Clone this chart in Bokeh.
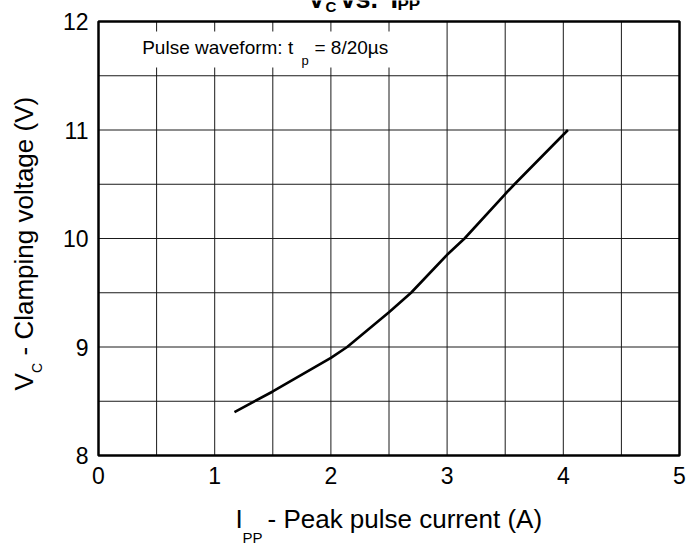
import math
from bokeh.plotting import figure
from bokeh.models import FixedTicker, Label, BoxAnnotation, Range1d, LinearAxis
from bokeh.embed import file_html
from bokeh.resources import INLINE

# ---- data ----
current_a = [1.17, 1.5, 2.0, 2.14, 2.5, 2.69, 3.0, 3.15, 3.5, 3.58, 4.04]
clamp_v = [8.40, 8.59, 8.90, 9.00, 9.32, 9.50, 9.85, 10.00, 10.41, 10.50, 11.00]
x_ticks = [0, 1, 2, 3, 4, 5]
y_ticks = [8, 9, 10, 11, 12]
x_grid = [0.5, 1, 1.5, 2, 2.5, 3, 3.5, 4, 4.5]
y_grid = [8.5, 9, 9.5, 10, 10.5, 11, 11.5]

FONT = "Liberation Sans"
W, H = 688, 543                  # canvas size (page has no body margin)
L, R, T, B = 98, 679, 21, 455    # plot box in canvas pixels
X0, X1 = x_ticks[0], x_ticks[-1]
Y0, Y1 = y_ticks[0], y_ticks[-1]
BASE_K = 0.32                    # baseline correction, fraction of font size

sx = (R - L) / (X1 - X0)
sy = (B - T) / (Y1 - Y0)
x_range = Range1d(X0 - L / sx, X1 + (W - R) / sx)
y_range = Range1d(Y0 - (H - B) / sy, Y1 + T / sy)

p = figure(width=W, height=H, output_backend="svg", toolbar_location=None,
           x_range=x_range, y_range=y_range,
           x_axis_location=None, y_axis_location=None,
           min_border=0)
p.background_fill_color = "white"
p.border_fill_color = "white"
p.outline_line_color = None
for g in p.grid:
    g.visible = False


def style_axis(ax, ticks, standoff):
    ax.ticker = FixedTicker(ticks=ticks)
    ax.axis_line_color = None
    ax.major_tick_line_color = None
    ax.minor_tick_line_color = None
    ax.major_tick_out = 0
    ax.major_tick_in = 0
    ax.major_label_standoff = standoff
    ax.major_label_text_font = FONT
    ax.major_label_text_font_size = "23px"
    ax.major_label_text_color = "black"


xaxis = LinearAxis(fixed_location=Y0, bounds=(X0, X1))
style_axis(xaxis, x_ticks, 11)
p.add_layout(xaxis, "below")
yaxis = LinearAxis(fixed_location=X0, bounds=(Y0, Y1))
style_axis(yaxis, y_ticks, 10)
p.add_layout(yaxis, "left")

# grid lines
p.segment(x0=x_grid, x1=x_grid, y0=[Y0] * len(x_grid), y1=[Y1] * len(x_grid),
          line_color="#1a1a1a", line_width=1)
p.segment(x0=[X0] * len(y_grid), x1=[X1] * len(y_grid), y0=y_grid, y1=y_grid,
          line_color="#1a1a1a", line_width=1)

# data curve
p.line(current_a, clamp_v, line_color="black", line_width=2.6)

# plot box
p.quad(left=[X0], right=[X1], bottom=[Y0], top=[Y1], fill_color=None,
       line_color="black", line_width=2.5)


def dx(px):
    return X0 + (px - L) / sx


def dy(py):
    return Y0 + (B - py) / sy


def lab(text, px, py, size, angle=0.0, bold=False):
    # shift "up" in the text's own frame to compensate the baseline offset
    shift = BASE_K * size
    if angle:
        px -= shift
    else:
        py -= shift
    p.add_layout(Label(x=dx(px), y=dy(py), text=text, angle=angle,
                       text_font=FONT, text_font_size=f"{size}px",
                       text_font_style="bold" if bold else "normal",
                       text_color="black", text_align="left",
                       text_baseline="alphabetic"))


# legend box
p.add_layout(BoxAnnotation(left=dx(100), right=dx(397), top=dy(31), bottom=dy(67),
                           fill_color="white", fill_alpha=1.0, line_color=None))
lab("Pulse waveform: t", 141.7, 53.3, 19)
lab("p", 301, 63.7, 13)
lab("= 8/20µs", 314, 53.3, 19)

# title (cut off at the top edge as in the reference)
lab("V", 307, 7.5, 27, bold=True)
lab("C", 325, 11, 15, bold=True)
lab("vs.", 340, 7.5, 27, bold=True)
lab("I", 390, 7.5, 27, bold=True)
lab("PP", 397, 9.5, 17, bold=True)

# x axis label
lab("I", 235, 526.5, 26)
lab("PP", 242, 541.5, 15)
lab("- Peak pulse current (A)", 267, 526.5, 26)

# y axis label (rotated)
a = math.pi / 2
lab("V", 31.7, 390, 26, angle=a)
lab("C", 40.5, 372.5, 14, angle=a)
lab("- Clamping voltage (V)", 31.7, 355, 26, angle=a)

open("out.html", "w").write(file_html(p, INLINE))
